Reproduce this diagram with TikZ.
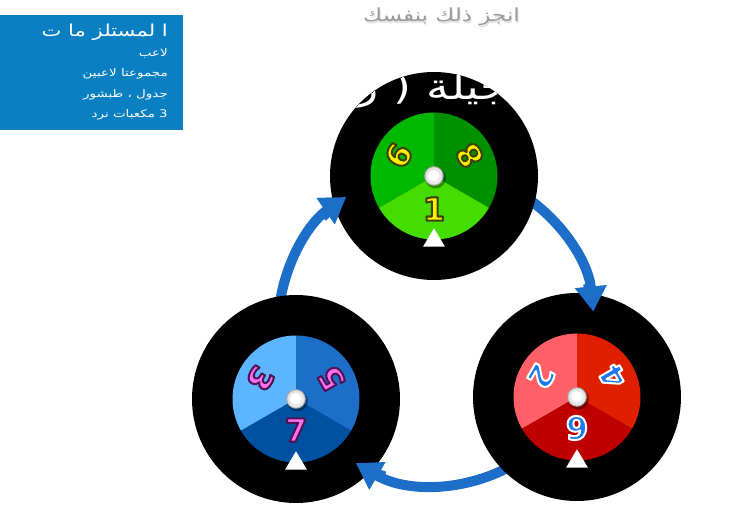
\documentclass[tikz,border=0pt]{standalone}
\usepackage{fontspec}
\usetikzlibrary{arrows.meta,calc}
\TeXXeTstate=1
\newfontfamily\arabicfont[Script=Arabic, FakeStretch=1.28]{DejaVu Sans}
\newfontfamily\digitfont{DejaVu Sans}
\definecolor{boxblue}{HTML}{0A7FC2}
\definecolor{titlegray}{HTML}{9A9A9A}
\definecolor{arrowblue}{HTML}{1C6EC8}
\definecolor{gA}{HTML}{00B800}
\definecolor{gB}{HTML}{009100}
\definecolor{gC}{HTML}{45DC00}
\definecolor{bA}{HTML}{5DB5FF}
\definecolor{bB}{HTML}{1D6EC9}
\definecolor{bC}{HTML}{0052A1}
\definecolor{rA}{HTML}{FF6068}
\definecolor{rB}{HTML}{E01E00}
\definecolor{rC}{HTML}{BE0000}
\definecolor{digY}{HTML}{FFF000}
\definecolor{digP}{HTML}{FF6EF0}
\definecolor{digB}{HTML}{1E78F0}
% outlined glyphs: fill + stroke in the given RGB stroke colour
\newcommand\outlined[2]{\special{pdf:literal direct #1 RG 2 Tr 2 w 1 j}#2\special{pdf:literal direct 0 Tr}}
\tikzset{
  wheel/.style={circle, fill=black, minimum size=208pt, inner sep=0pt},
  arr/.style={draw=arrowblue, line width=10pt, -{Triangle[length=25pt,width=30pt]}},
  digit/.style={font=\digitfont\bfseries\fontsize{32}{32}\selectfont, inner sep=0pt},
  boxline/.style={text=white, font=\arabicfont\fontsize{10.5}{12}\selectfont, anchor=east, inner sep=0pt},
}
\newcommand\wheelsectors[4]{%
  \fill[#2] (#1.center) -- ++(90:63.5) arc[start angle=90, end angle=210, radius=63.5] -- cycle;
  \fill[#3] (#1.center) -- ++(-30:63.5) arc[start angle=-30, end angle=90, radius=63.5] -- cycle;
  \fill[#4] (#1.center) -- ++(210:63.5) arc[start angle=210, end angle=330, radius=63.5] -- cycle;
  \fill[black, opacity=.35] ($(#1.center)+(1.5,-2)$) circle (10.5);
  \fill[black!35] (#1.center) circle (9.8);
  \shade[inner color=white, outer color=black!12] (#1.center) circle (8.8);
  \fill[white] ($(#1.center)+(-0.5,0.5)$) circle (5.5);
  \fill[white] ($(#1.center)+(0,-52.3)$) -- ++(-11,-18.4) -- ++(22,0) -- cycle;
}
\begin{document}
\begin{tikzpicture}[x=1pt, y=1pt]
\useasboundingbox (0,0) rectangle (740,522);
% info box
\node[fill=boxblue, minimum width=183pt, minimum height=115pt, anchor=north west, inner sep=0pt] (box) at (0,507) {};
\node[text=white, font=\arabicfont\fontsize{16.5}{18}\selectfont, anchor=east, inner sep=0pt] (boxtitle) at (168,490) {\beginR ا لمستلز ما ت\endR};
\node[boxline] (l1) at (168,469) {\beginR لاعب\endR};
\node[boxline] (l2) at (168,448) {\beginR مجموعتا لاعبين\endR};
\node[boxline] (l3) at (168,427) {\beginR جدول ، طبشور\endR};
\node[boxline] (l4) at (168,407) {\beginR 3 مكعبات نرد\endR};
% gray title
\node[text=black!12, font=\arabicfont\fontsize{18}{20}\selectfont] (titlesh) at (442.5,503.5) {\beginR انجز ذلك بنفسك\endR};
\node[text=titlegray, font=\arabicfont\fontsize{18}{20}\selectfont] (title) at (441.5,505) {\beginR انجز ذلك بنفسك\endR};
% arrows, under the wheels
\coordinate (ctr) at (436,195);
\coordinate (a1s) at ($(ctr)+(60:158)$);
\coordinate (a2s) at ($(ctr)+(-55:158)$);
\coordinate (a3s) at ($(ctr)+(175:158)$);
\draw[arr] (a1s) arc[start angle=60, end angle=5.6, radius=158];
\draw[arr] (a2s) arc[start angle=-55, end angle=-120.5, radius=158];
\draw[arr] (a3s) arc[start angle=175, end angle=124.6, radius=158];
% wheels
\node[wheel] (top) at (434,346) {};
\node[wheel] (bl) at (296,123) {};
\node[wheel] (br) at (577,125) {};
\wheelsectors{top}{gA}{gB}{gC}
\wheelsectors{bl}{bA}{bB}{bC}
\wheelsectors{br}{rA}{rB}{rC}
% digits
\node[digit, text=digY, rotate=-120] (g1) at ($(top.center)+(150:41)$) {\outlined{0.25 0.25 0}{9}};
\node[digit, text=digY, rotate=120] (g2) at ($(top.center)+(30:41)$) {\outlined{0.25 0.25 0}{8}};
\node[digit, text=digY] (g3) at ($(top.center)+(270:33)$) {\outlined{0.25 0.25 0}{1}};
\node[digit, text=digP, rotate=-120] (b1) at ($(bl.center)+(150:41)$) {\outlined{0.3 0.08 0.32}{3}};
\node[digit, text=digP, rotate=120] (b2) at ($(bl.center)+(30:41)$) {\outlined{0.3 0.08 0.32}{5}};
\node[digit, text=digP] (b3) at ($(bl.center)+(270:31)$) {\outlined{0.3 0.08 0.32}{7}};
\node[digit, text=digB, rotate=-120] (r1) at ($(br.center)+(150:41)$) {\outlined{1 1 1}{2}};
\node[digit, text=digB, rotate=120] (r2) at ($(br.center)+(30:41)$) {\outlined{1 1 1}{4}};
\node[digit, text=digB] (r3) at ($(br.center)+(270:31)$) {\outlined{1 1 1}{9}};
% arrow heads over the wheels
\coordinate (h1s) at ($(ctr)+(16:158)$);
\coordinate (h2s) at ($(ctr)+(-109:158)$);
\coordinate (h3s) at ($(ctr)+(136:158)$);
\draw[arr] (h1s) arc[start angle=16, end angle=5.6, radius=158];
\draw[arr] (h2s) arc[start angle=-109, end angle=-120.5, radius=158];
\draw[arr] (h3s) arc[start angle=136, end angle=124.6, radius=158];
% white heading, seen only over the top wheel
\begin{scope}
\clip (top) circle (104);
\node[text=white, font=\arabicfont\fontsize{36}{38}\selectfont, anchor=base east, inner sep=0pt] (heading) at (509,422) {\beginR جيلة ( ر\endR};
\end{scope}
\end{tikzpicture}
\end{document}
